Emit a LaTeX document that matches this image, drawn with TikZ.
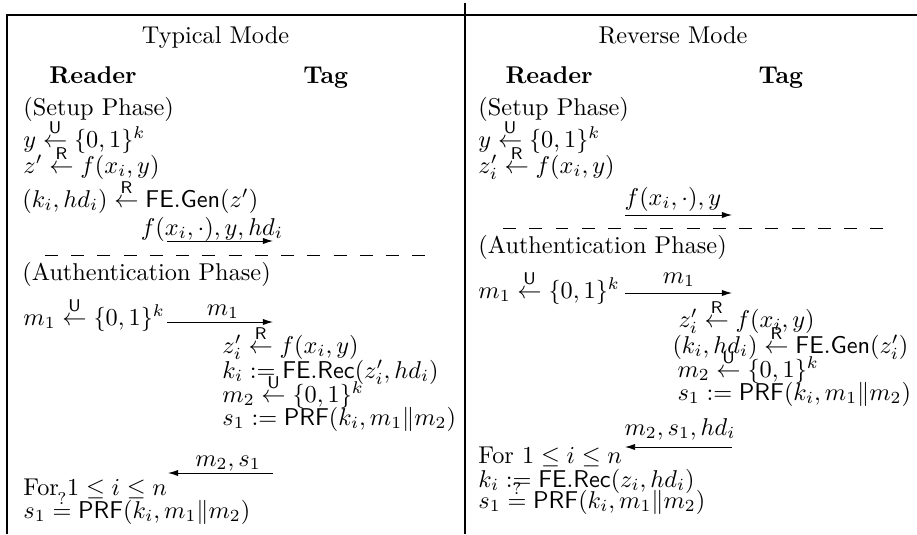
\documentclass[tikz,border=0pt]{standalone}
\usepackage{amsmath}
\usetikzlibrary{arrows.meta}
\newcommand{\smp}[1]{\overset{\mathsf{#1}}{\leftarrow}}
\begin{document}
\begin{tikzpicture}[x=0.4115pt,y=-0.4115pt,
  t/.style={anchor=base west,inner sep=0pt},
  c/.style={anchor=base,inner sep=0pt},
  msg/.style={line width=0.4pt,-{Latex[length=4.2pt,width=2.6pt]}},
  rule/.style={line width=0.45pt},
  sep/.style={line width=0.4pt,dash pattern=on 5.3pt off 5.5pt}]
\useasboundingbox (0,0) rectangle (917,534);
% frame
\coordinate (fbl) at (7,534);
\coordinate (ftl) at (7,15);
\coordinate (ftr) at (917,15);
\coordinate (mt) at (465,3);
\coordinate (mb) at (465,534);
\draw[rule] (fbl) -- (ftl) -- (ftr);
\draw[rule] (mt) -- (mb);

% ---------------- Typical Mode ----------------
\node[c] (h1) at (215.5,43) {Typical Mode};
\node[t] (r1) at (49,83) {\textbf{Reader}};
\node[t] (g1) at (303,83) {\textbf{Tag}};
\node[t] (a1) at (23,115) {(Setup Phase)};
\node[t] (a2) at (23,147) {$y \smp{U} \{0,1\}^k$};
\node[t] (a3) at (23,173) {$z' \smp{R} f(x_i,y)$};
\node[t] (a4) at (22,207) {$(k_i,hd_i) \smp{R} \mathsf{FE.Gen}(z')$};
\node[c] (l1) at (212,235) {$f(x_i,\cdot),y,hd_i$};
\coordinate (l1a) at (167,241);
\coordinate (l1b) at (273,241);
\draw[msg] (l1a) -- (l1b);
\coordinate (d1a) at (45,255);
\coordinate (d1b) at (425,255);
\draw[sep] (d1a) -- (d1b);
\node[t] (a5) at (22,280) {(Authentication Phase)};
\node[t] (a6) at (23,325) {$m_1 \smp{U} \{0,1\}^k$};
\node[c] (l2) at (223,315) {$m_1$};
\coordinate (l2a) at (167,322);
\coordinate (l2b) at (273,322);
\draw[msg] (l2a) -- (l2b);
\node[t] (b1) at (222,353) {$z'_i \smp{R} f(x_i,y)$};
\node[t] (b2) at (222,378) {$k_i := \mathsf{FE.Rec}(z'_i,hd_i)$};
\node[t] (b3) at (222,402) {$m_2 \smp{U} \{0,1\}^k$};
\node[t] (b4) at (222,425) {$s_1 := \mathsf{PRF}(k_i,m_1\|m_2)$};
\node[c] (l3) at (228,466) {$m_2,s_1$};
\coordinate (l3a) at (273,473);
\coordinate (l3b) at (168,473);
\draw[msg] (l3a) -- (l3b);
\node[t] (a7) at (23,495) {For $1\le i\le n$};
\node[t] (a8) at (23,518) {$s_1 \overset{?}{=} \mathsf{PRF}(k_i,m_1\|m_2)$};

% ---------------- Reverse Mode ----------------
\node[c] (h2) at (673,43) {Reverse Mode};
\node[t] (r2) at (505,83) {\textbf{Reader}};
\node[t] (g2) at (758,83) {\textbf{Tag}};
\node[t] (e1) at (478,115) {(Setup Phase)};
\node[t] (e2) at (478,147) {$y \smp{U} \{0,1\}^k$};
\node[t] (e3) at (478,173) {$z'_i \smp{R} f(x_i,y)$};
\node[c] (k1) at (673,205) {$f(x_i,\cdot),y$};
\coordinate (k1a) at (625,215);
\coordinate (k1b) at (732,215);
\draw[msg] (k1a) -- (k1b);
\coordinate (d2a) at (503,228);
\coordinate (d2b) at (883,228);
\draw[sep] (d2a) -- (d2b);
\node[t] (e4) at (478,253) {(Authentication Phase)};
\node[t] (e5) at (478,298) {$m_1 \smp{U} \{0,1\}^k$};
\node[c] (k2) at (679,283) {$m_1$};
\coordinate (k2a) at (625,293);
\coordinate (k2b) at (732,293);
\draw[msg] (k2a) -- (k2b);
\node[t] (f1) at (678,327) {$z'_i \smp{R} f(x_i,y)$};
\node[t] (f2) at (672,353) {$(k_i,hd_i) \smp{R} \mathsf{FE.Gen}(z'_i)$};
\node[t] (f3) at (677,377) {$m_2 \smp{U} \{0,1\}^k$};
\node[t] (f4) at (677,400) {$s_1 := \mathsf{PRF}(k_i,m_1\|m_2)$};
\node[c] (k3) at (680,435) {$m_2,s_1,hd_i$};
\coordinate (k3a) at (732,447);
\coordinate (k3b) at (625,447);
\draw[msg] (k3a) -- (k3b);
\node[t] (e6) at (478,463) {For $1\le i\le n$};
\node[t] (e7) at (478,487) {$k_i := \mathsf{FE.Rec}(z_i,hd_i)$};
\node[t] (e8) at (478,508) {$s_1 \overset{?}{=} \mathsf{PRF}(k_i,m_1\|m_2)$};
\end{tikzpicture}
\end{document}
